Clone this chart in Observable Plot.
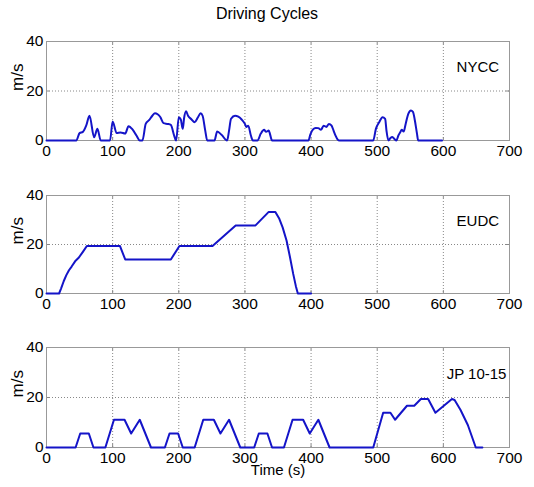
<!DOCTYPE html>
<html>
<head>
<meta charset="utf-8">
<script src="https://cdn.jsdelivr.net/npm/d3@7"></script>
<script src="https://cdn.jsdelivr.net/npm/@observablehq/plot@0.6"></script>
<style>
  html, body { margin: 0; padding: 0; background: white; }
  #wrap { position: relative; width: 534px; height: 487px; font-family: "Liberation Sans", Arial, sans-serif; }
  #title { position: absolute; left: 0; top: 5px; width: 534px; text-align: center; font-size: 16px; color: #000; }
  .panel { position: absolute; left: 0; }
</style>
</head>
<body>
<div id="wrap">
  <div id="title">Driving Cycles</div>
</div>
<script>
// ---- data ----
const xTicks = [0, 100, 200, 300, 400, 500, 600, 700];
const yTicks = [0, 20, 40];

// NYCC (time s, speed m/s)
const nyccT = [0, 45, 50, 55, 60, 65, 72, 77, 82, 96, 100, 106, 112, 119, 124, 130, 136, 141,
  145, 150, 155, 160, 164, 168, 172, 177, 183, 188, 193, 196, 200, 203, 206, 208, 211, 214, 219, 224, 229, 233, 236, 240, 243,
  254, 258, 265, 273, 276, 279, 285, 290, 295, 300, 302, 305, 309, 312,
  319, 324, 329, 332, 336, 338, 341,
  396, 399, 403, 407, 411, 415, 419, 423, 427, 431, 434, 437, 440, 443,
  494, 498, 503, 508, 512, 514, 517, 520, 523, 526, 529, 532, 535, 537, 540, 543, 547, 551, 554, 557, 560, 562, 598];
const nyccV = [0, 0, 3, 3.5, 6, 10, 1.3, 4.7, 0, 0, 7.7, 3, 3.2, 2.8, 5.8, 4.5, 2, 0,
  0, 6.7, 8.2, 10, 11, 10.6, 9.5, 7, 6.7, 6.3, 2, 0, 9.4, 8.5, 4.7, 9, 11.8, 10, 8.6, 7.4, 9.4, 11, 10, 4, 0,
  0, 3.6, 2.2, 0, 4, 8.8, 10, 9.6, 8.5, 6.7, 5.5, 6, 2, 0,
  0, 2.8, 4.3, 3.5, 4, 2.5, 0,
  0, 2.5, 4.5, 5.1, 5, 4.3, 6, 5.5, 6.7, 6, 4, 2, 0.5, 0,
  0, 4.7, 7.4, 9.4, 8.7, 4, 0, 1, 1.4, 0.6, 0, 2, 3.4, 4.3, 3.6, 6.7, 10.8, 12.1, 11.6, 8, 3, 0, 0];

// EUDC
const eudcT = [0, 19, 22, 26, 30, 34, 38, 44, 49, 55, 61, 111, 119, 188, 201, 251, 286, 316, 336, 346, 352, 357, 363, 368, 373, 377, 380, 400];
const eudcV = [0, 0, 2, 5, 7.5, 9.5, 11, 13.4, 14.7, 17, 19.4, 19.4, 13.9, 13.9, 19.4, 19.4, 27.8, 27.8, 33.3, 33.3, 30.5, 27, 21.5, 15, 8, 3, 0, 0];

// JP 10-15
const jpT = [0, 44, 51, 64, 71, 89, 102, 118, 128, 141, 158,
  179, 186, 199, 206, 224, 237, 253, 263, 276, 293,
  314, 321, 334, 341, 359, 372, 388, 398, 411, 428,
  494, 509, 520, 527, 545, 556, 566, 577, 588, 613, 617, 626, 637, 649, 659];
const jpV = [0, 0, 5.6, 5.6, 0, 0, 11.1, 11.1, 5.6, 11.1, 0,
  0, 5.6, 5.6, 0, 0, 11.1, 11.1, 5.6, 11.1, 0,
  0, 5.6, 5.6, 0, 0, 11.1, 11.1, 5.6, 11.1, 0,
  0, 13.9, 13.9, 11.1, 16.7, 16.7, 19.4, 19.4, 13.9, 19.4, 19.0, 15, 9, 0, 0];

const panelNames = ["NYCC", "EUDC", "JP 10-15"];
const panelLabelX = [620, 620, 605];
const panelLabelY = [29.5, 29.5, 29.5];

const seriesT = [nyccT, eudcT, jpT];
const seriesV = [nyccV, eudcV, jpV];
const curves = ["monotone-x", "linear", "linear"];

// ---- layout ----
const layouts = [
  { top: 30, mt: 11, fh: 99, mb: 30 },
  { top: 170, mt: 25, fh: 98, mb: 30 },
  { top: 323, mt: 24, fh: 100, mb: 40 }
];

const wrap = document.getElementById("wrap");
const blue = "#1414c8";
const font = "'Liberation Sans', Arial, sans-serif";

layouts.forEach((L, i) => {
  const data = seriesT[i].map((t, k) => ({ t, v: seriesV[i][k] }));
  const marks = [
    Plot.gridX(xTicks.slice(1, -1), { stroke: "#888", strokeOpacity: 1, strokeDasharray: "1,2", strokeWidth: 1 }),
    Plot.gridY(yTicks.slice(1, -1), { stroke: "#888", strokeOpacity: 1, strokeDasharray: "1,2", strokeWidth: 1 }),
    Plot.ruleX(xTicks, { y1: 0, y2: 1.2, stroke: "#888" }),
    Plot.ruleX(xTicks, { y1: 38.8, y2: 40, stroke: "#888" }),
    Plot.ruleY(yTicks, { x1: 0, x2: 5, stroke: "#888" }),
    Plot.ruleY(yTicks, { x1: 695, x2: 700, stroke: "#888" }),
    Plot.frame({ stroke: "#999", strokeWidth: 1 }),
    Plot.axisX(xTicks, { tickSize: 0, tickPadding: 4, fontSize: 15.5, label: null }),
    Plot.axisY(yTicks, { tickSize: 0, tickPadding: 3, fontSize: 15.5, label: null }),
    Plot.line(data, { x: "t", y: "v", stroke: blue, strokeWidth: 2, curve: curves[i] }),
    Plot.text([panelNames[i]], { x: [panelLabelX[i]], y: [panelLabelY[i]], text: d => d, textAnchor: "start", fontSize: 15, fill: "#000" }),
    Plot.text(["m/s"], { frameAnchor: "left", dx: -29, rotate: -90, fontSize: 17, fill: "#000" })
  ];
  if (i === 2) {
    marks.push(Plot.text(["Time (s)"], { frameAnchor: "bottom", dy: 27, fontSize: 15, fill: "#000" }));
  }
  const chart = Plot.plot({
    width: 534,
    height: L.mt + L.fh + L.mb,
    marginLeft: 46,
    marginRight: 25,
    marginTop: L.mt,
    marginBottom: L.mb,
    x: { domain: [0, 700], axis: null },
    y: { domain: [0, 40], axis: null },
    style: { fontFamily: font, fontSize: "15px", color: "#000", background: "transparent", overflow: "visible" },
    marks
  });
  chart.classList.add("panel");
  chart.style.top = L.top + "px";
  wrap.appendChild(chart);
});
</script>
</body>
</html>
